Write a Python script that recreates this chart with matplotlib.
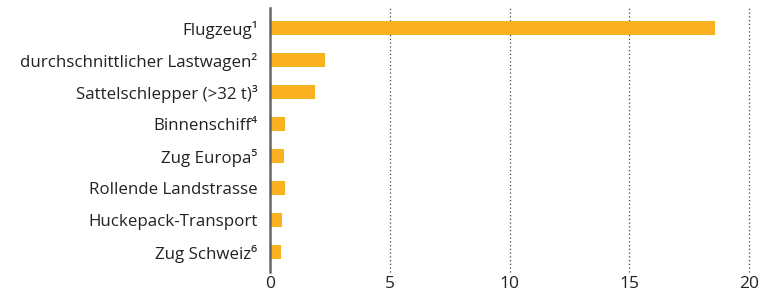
import matplotlib.pyplot as plt

plt.rcParams['font.family'] = ['Open Sans', 'DejaVu Sans']

# Werte
categories = ['Flugzeug¹', 'durchschnittlicher Lastwagen²', 'Sattelschlepper (>32 t)³',
              'Binnenschiff⁴', 'Zug Europa⁵', 'Rollende Landstrasse',
              'Huckepack-Transport', 'Zug Schweiz⁶']
values = [18.6, 2.3, 1.88, 0.62, 0.58, 0.63, 0.5, 0.45]
xticks = [0, 5, 10, 15, 20]

fig = plt.figure(figsize=(7.74, 2.98), dpi=100)
ax = fig.add_axes([270 / 774, 26 / 298, 479 / 774, 264 / 298])

ax.barh(range(len(categories)), values, height=0.44, color='#F9B122', zorder=3)

ax.set_xlim(0, 20)
ax.set_ylim(len(categories) - 0.375, -0.625)
ax.set_xticks(xticks)
ax.set_yticks(range(len(categories)))
ax.set_yticklabels(categories)
ax.tick_params(axis='both', length=0, colors='#222222')
ax.tick_params(axis='y', pad=9, labelsize=12.2)
ax.tick_params(axis='x', pad=3, labelsize=12.5)

for t in xticks[1:]:
    ax.axvline(t, color='#444444', linewidth=0.9, linestyle=(0, (1, 2)),
               zorder=1, clip_on=False)

for s in ['top', 'right', 'bottom']:
    ax.spines[s].set_visible(False)
ax.spines['left'].set_color('#666666')
ax.spines['left'].set_linewidth(1.8)
ax.spines['left'].set_zorder(4)

fig.savefig('out.png', dpi=100)
